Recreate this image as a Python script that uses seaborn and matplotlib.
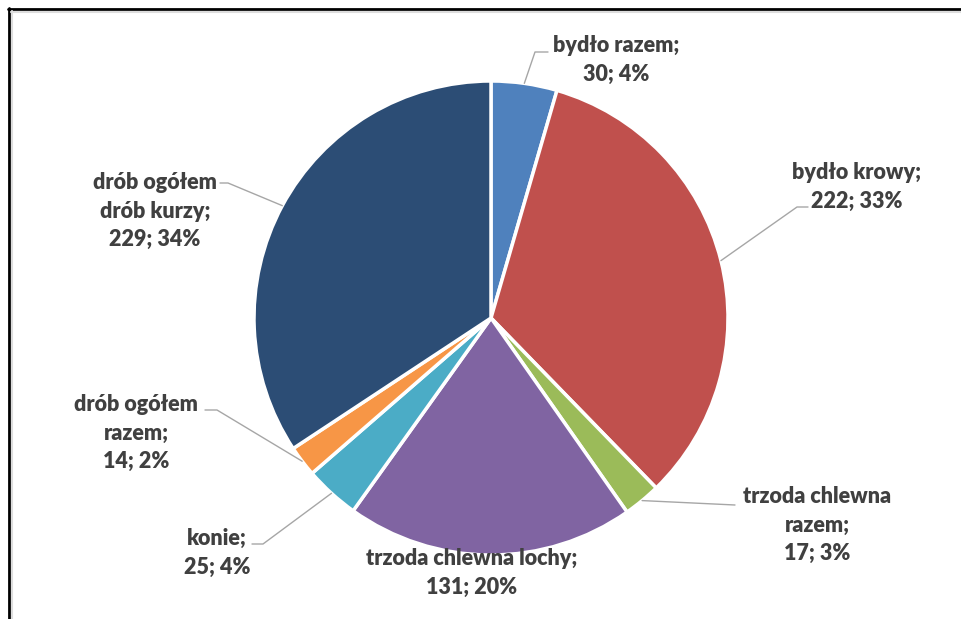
import matplotlib
matplotlib.use("Agg")
import matplotlib.pyplot as plt
import seaborn as sns
import numpy as np

sns.set_theme(style="white")
plt.rcParams['font.family'] = ['Lato', 'DejaVu Sans']

categories = ["bydło razem", "bydło krowy", "trzoda chlewna razem", "trzoda chlewna lochy",
              "konie", "drób ogółem razem", "drób ogółem drób kurzy"]
values = [30, 222, 17, 131, 25, 14, 229]
label_texts = ["bydło razem;\n30; 4%", "bydło krowy;\n222; 33%", "trzoda chlewna\nrazem;\n17; 3%",
               "trzoda chlewna lochy;\n131; 20%", "konie;\n25; 4%", "drób ogółem\nrazem;\n14; 2%",
               "drób ogółem\ndrób kurzy;\n229; 34%"]
colors = ["#4F81BD", "#C0504D", "#9BBB59", "#8064A2", "#4BACC6", "#F79646", "#2C4D75"]

W, H = 961, 619
fig = plt.figure(figsize=(W / 100, H / 100), dpi=100)
ax = fig.add_axes([0, 0, 1, 1])

cx, cy, R = 491, H - 318, 237
wedges, _ = ax.pie(values, colors=colors, startangle=90, counterclock=False,
                   radius=R, center=(cx, cy), frame=True,
                   wedgeprops=dict(edgecolor="white", linewidth=2.5))
ax.set_xlim(0, W)
ax.set_ylim(0, H)
ax.axis("off")

# label layout: (text center x, text center y in px from top, elbow point, line end)
layout = [
    (616, 60, (535, 52), (548, 52)),
    (857, 187, (797, 207), (808, 207)),
    (817, 525, None, (735, 505)),
    (472, 573, None, None),
    (217, 553, (263, 544), (252, 544)),
    (136, 433, (217, 410), (205, 410)),
    (155, 211, (228, 183), (220, 183)),
]
for w, txt, (tx, ty, elbow, end) in zip(wedges, label_texts, layout):
    ax.text(tx, H - ty, txt, ha="center", va="center", fontsize=15.5, fontweight="heavy",
            color="#404040", linespacing=1.45)
    if end is not None:
        mid = np.deg2rad((w.theta1 + w.theta2) / 2)
        sx, sy = cx + R * np.cos(mid), cy + R * np.sin(mid)
        xs = [sx]; ys = [sy]
        if elbow is not None:
            xs.append(elbow[0]); ys.append(H - elbow[1])
        xs.append(end[0]); ys.append(H - end[1])
        ax.plot(xs, ys, color="#A6A6A6", linewidth=1)

# frame border
fig.add_artist(plt.Line2D([9 / W, 9 / W], [0, 1 - 8 / H], color="black", linewidth=2, transform=fig.transFigure))
fig.add_artist(plt.Line2D([8 / W, 1], [1 - 9 / H, 1 - 9 / H], color="black", linewidth=2, transform=fig.transFigure))
fig.add_artist(plt.Line2D([11.5 / W, 11.5 / W], [0, 1 - 11 / H], color="#DDDDDD", linewidth=1.5, transform=fig.transFigure))
fig.add_artist(plt.Line2D([11 / W, 1], [1 - 11.5 / H, 1 - 11.5 / H], color="#DDDDDD", linewidth=1.5, transform=fig.transFigure))

fig.savefig("out.png", dpi=100)
